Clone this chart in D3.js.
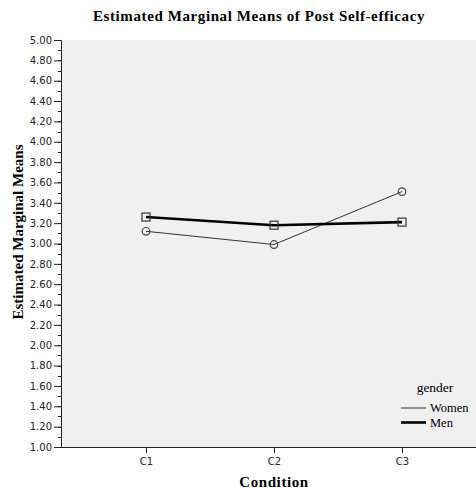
<!DOCTYPE html>
<html>
<head>
<meta charset="utf-8">
<script src="https://cdn.jsdelivr.net/npm/d3@7"></script>
<style>
    body { margin: 0; background: #fff; }
    svg { display: block; }
    .tick-label { font-family: 'DejaVu Sans', sans-serif; font-size: 10px; fill: #222; }
    .serif { font-family: 'Liberation Serif', 'Times New Roman', serif; fill: #000; }
</style>
</head>
<body>
<div id="chart"></div>
<script>
const conditions = ['C1', 'C2', 'C3'];
const genders = ['Women', 'Men'];
const womenMeans = [3.12, 2.99, 3.51];
const menMeans = [3.26, 3.18, 3.21];
const yTicks = [1.0, 1.2, 1.4, 1.6, 1.8, 2.0, 2.2, 2.4, 2.6, 2.8, 3.0, 3.2, 3.4, 3.6, 3.8, 4.0, 4.2, 4.4, 4.6, 4.8, 5.0];

const width = 476;
const height = 491;
const plot = { left: 61, top: 40, right: 476, bottom: 447 };

const svg = d3.select('#chart')
    .append('svg')
    .attr('width', width)
    .attr('height', height);

const x = d3.scalePoint()
    .domain(conditions)
    .range([146, 402]);

const y = d3.scaleLinear()
    .domain([1, 5])
    .range([plot.bottom, plot.top]);

// plot background
svg.append('rect')
    .attr('x', plot.left)
    .attr('y', plot.top)
    .attr('width', plot.right - plot.left)
    .attr('height', plot.bottom - plot.top)
    .style('fill', '#f0f0f0');

// y axis with minor ticks
const minorTicks = d3.range(10, 51).map(d => d / 10);
svg.selectAll('.minor-tick')
    .data(minorTicks)
    .join('line')
    .attr('x1', plot.left - 3)
    .attr('x2', plot.left)
    .attr('y1', d => Math.round(y(d)) + 0.5)
    .attr('y2', d => Math.round(y(d)) + 0.5)
    .attr('stroke', '#222')
    .classed('minor-tick', true);

const yAxis = svg.append('g')
    .attr('transform', `translate(${plot.left},0)`)
    .call(d3.axisLeft(y).tickValues(yTicks).tickFormat(d3.format('.2f')).tickSize(7).tickPadding(2));
yAxis.select('.domain').attr('stroke', '#222');
yAxis.selectAll('.tick line').attr('stroke', '#222');
yAxis.selectAll('.tick text').attr('class', 'tick-label').attr('fill', null);

const xAxis = svg.append('g')
    .attr('transform', `translate(0,${plot.bottom})`)
    .call(d3.axisBottom(x).tickSizeOuter(0).tickSize(6).tickPadding(5));
xAxis.select('.domain').attr('d', `M${plot.left},0.5H${plot.right}`).attr('stroke', '#222');
xAxis.selectAll('.tick line').attr('stroke', '#222');
xAxis.selectAll('.tick text').attr('class', 'tick-label').attr('fill', null);

// lines
const series = [
    { name: genders[0], values: womenMeans, color: '#333', width: 1, marker: 'circle' },
    { name: genders[1], values: menMeans, color: '#000', width: 2.6, marker: 'square' }
];

const line = d3.line()
    .x((d, i) => x(conditions[i]))
    .y(d => y(d));

svg.selectAll('.series-line')
    .data(series)
    .join('path')
    .attr('d', d => line(d.values))
    .attr('fill', 'none')
    .attr('stroke', d => d.color)
    .attr('stroke-width', d => d.width)
    .classed('series-line', true);

// markers
svg.selectAll('.circle-marker')
    .data(womenMeans)
    .join('circle')
    .attr('cx', (d, i) => x(conditions[i]))
    .attr('cy', d => y(d))
    .attr('r', 3.8)
    .attr('fill', 'none')
    .attr('stroke', '#444')
    .attr('stroke-width', 1.2)
    .classed('circle-marker', true);

svg.selectAll('.square-marker')
    .data(menMeans)
    .join('rect')
    .attr('x', (d, i) => x(conditions[i]) - 4)
    .attr('y', d => y(d) - 4)
    .attr('width', 8)
    .attr('height', 8)
    .attr('fill', 'none')
    .attr('stroke', '#333')
    .attr('stroke-width', 1.2)
    .classed('square-marker', true);

// title and axis labels
svg.append('text')
    .attr('x', 259)
    .attr('y', 21)
    .attr('text-anchor', 'middle')
    .attr('class', 'serif')
    .style('font-size', '15px')
    .style('font-weight', 'bold')
    .style('letter-spacing', '0.6px')
    .text('Estimated Marginal Means of Post Self-efficacy');

svg.append('text')
    .attr('transform', 'translate(23,232) rotate(-90)')
    .attr('text-anchor', 'middle')
    .attr('class', 'serif')
    .style('font-size', '15px')
    .style('font-weight', 'bold')
    .text('Estimated Marginal Means');

svg.append('text')
    .attr('x', x('C2'))
    .attr('y', 487)
    .attr('text-anchor', 'middle')
    .attr('class', 'serif')
    .style('font-size', '15px')
    .style('font-weight', 'bold')
    .style('letter-spacing', '0.6px')
    .text('Condition');

// legend
const legend = svg.append('g');
legend.append('text')
    .attr('x', 435)
    .attr('y', 392)
    .attr('text-anchor', 'middle')
    .attr('class', 'serif')
    .style('font-size', '13.5px')
    .text('gender');

legend.selectAll('.legend-line')
    .data(series)
    .join('line')
    .attr('x1', 401)
    .attr('x2', 426)
    .attr('y1', (d, i) => 408 + 14.5 * i)
    .attr('y2', (d, i) => 408 + 14.5 * i)
    .attr('stroke', d => d.color)
    .attr('stroke-width', d => d.width)
    .classed('legend-line', true);

legend.selectAll('.legend-label')
    .data(series)
    .join('text')
    .attr('x', 430)
    .attr('y', (d, i) => 412 + 14.5 * i)
    .attr('class', 'serif legend-label')
    .style('font-size', '12.5px')
    .text(d => d.name);
</script>
</body>
</html>
